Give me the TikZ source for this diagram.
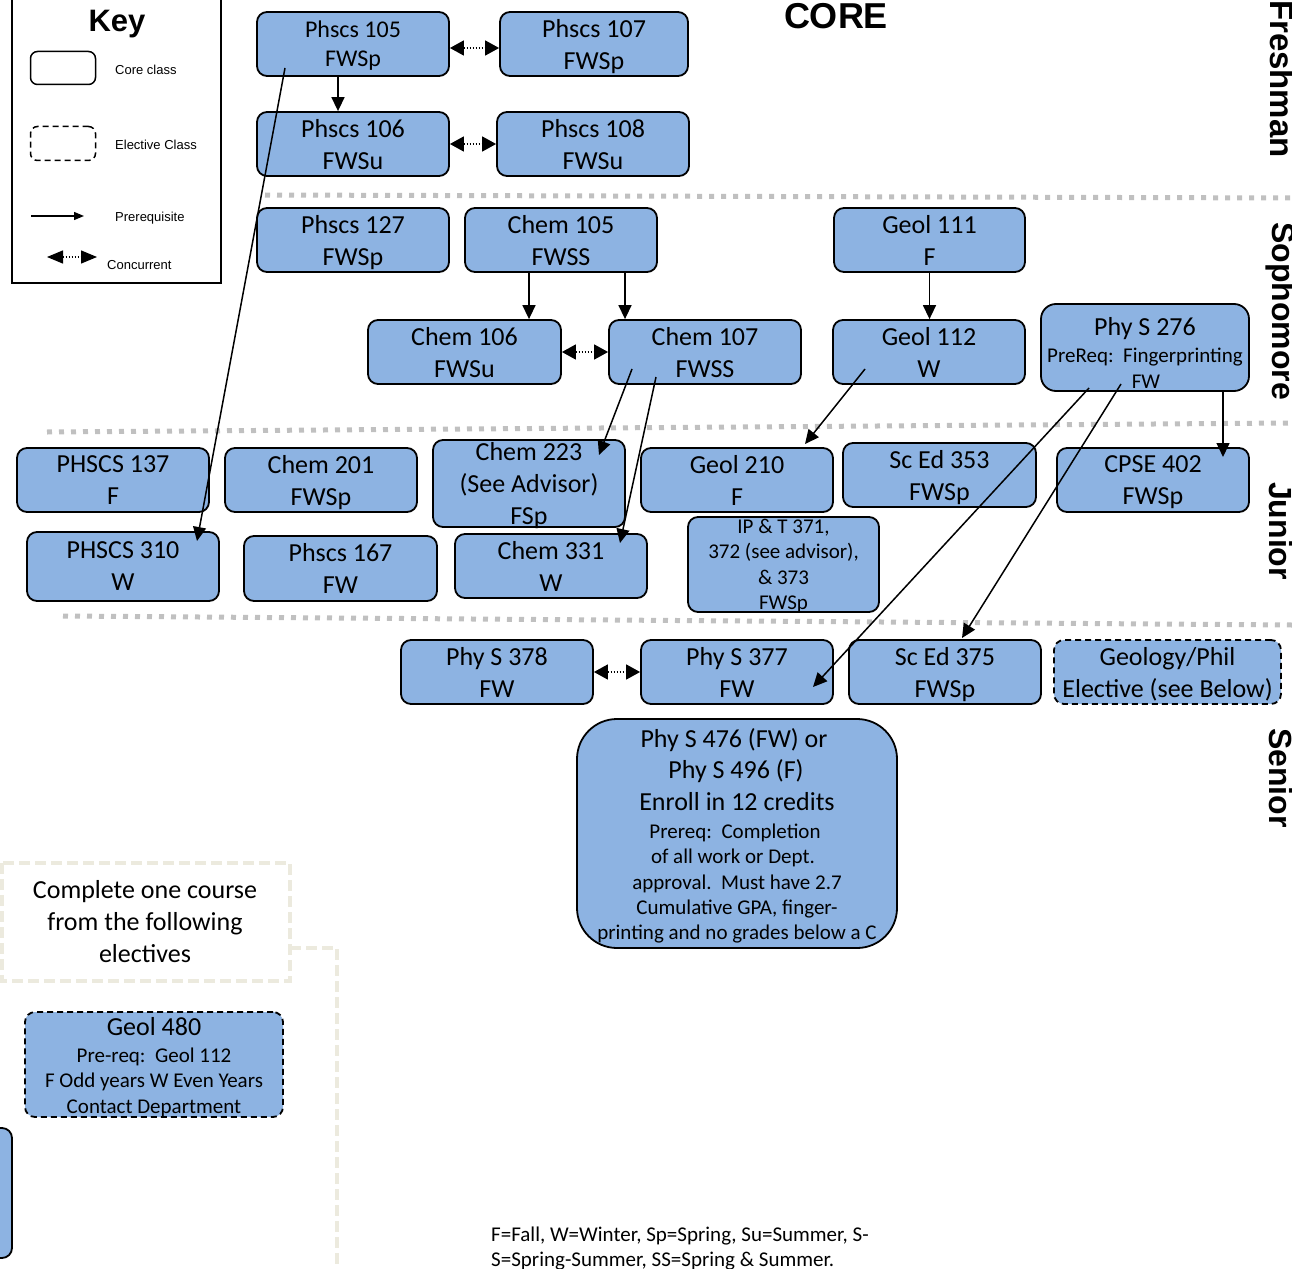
\documentclass[tikz,border=0pt]{standalone}
\usepackage{fontspec}
\setmainfont{Carlito}
\newfontfamily\arialfont{Liberation Sans}
\usetikzlibrary{arrows.meta}
\definecolor{boxblue}{RGB}{141,179,226}
\definecolor{sepgray}{RGB}{192,192,192}
\definecolor{tancol}{RGB}{236,234,222}
\begin{document}
\begin{tikzpicture}[x=1pt,y=-1pt,
  course/.style={draw=black, line width=1.8pt, fill=boxblue, rounded corners=10pt,
    inner sep=0pt, align=center, font=\fontsize{26}{32}\selectfont},
  std/.style={course, minimum width=192pt, minimum height=64pt, text depth=0pt},
  elective/.style={dash pattern=on 6pt off 4pt},
  smalltxt/.style={font=\fontsize{21}{25.5}\selectfont, inner sep=0pt},
  bigtxt/.style={font=\fontsize{26}{32}\selectfont, inner sep=0pt},
  prereq/.style={line width=1.5pt, -{Triangle[length=14pt,width=13pt]}},
  concur/.style={line width=1.5pt, dash pattern=on 1.5pt off 1.5pt,
    {Triangle[length=14pt,width=15pt]}-{Triangle[length=14pt,width=15pt]}},
  separator/.style={sepgray, line width=5pt, dash pattern=on 5pt off 7pt},
  tanline/.style={tancol, line width=4pt, dash pattern=on 11pt off 5pt},
  keytext/.style={font=\arialfont\fontsize{13}{15}\selectfont, anchor=base west, inner sep=0pt},
  yearlabel/.style={font=\arialfont\bfseries\fontsize{32}{36}\selectfont, rotate=-90, inner sep=0pt},
]
\useasboundingbox (0,0) rectangle (1292,1268);

% ---------- Key ----------
\draw[line width=2.5pt] (12,-10) rectangle (221,283);
\node[font=\arialfont\bfseries\fontsize{31}{34}\selectfont, anchor=base, inner sep=0pt] (keyt) at (117,32) {Key};
\node[draw, line width=1.5pt, rounded corners=7pt, minimum width=65pt, minimum height=33pt] (kcore) at (63,68) {};
\node[draw, line width=1.5pt, rounded corners=7pt, minimum width=65pt, minimum height=34pt, dash pattern=on 6pt off 4pt] (kelec) at (63,143.5) {};
\node[keytext] (kcoret) at (115,75) {Core class};
\node[keytext] (kelect) at (115,150) {Elective Class};
\coordinate (kpa) at (31,216);
\coordinate (kpb) at (84,216);
\draw[line width=1.3pt, -{Triangle[length=10pt,width=8pt]}] (kpa) -- (kpb);
\node[keytext] (kpret) at (115,222) {Prerequisite};
\coordinate (kca) at (47,257);
\coordinate (kcb) at (97,257);
\draw[line width=1.3pt, dash pattern=on 1.5pt off 1.5pt, {Triangle[length=16pt,width=13pt]}-{Triangle[length=16pt,width=13pt]}] (kca) -- (kcb);
\node[keytext] (kcont) at (107,269) {Concurrent};

% ---------- titles ----------
\node[font=\arialfont\bfseries\fontsize{36}{40}\selectfont, anchor=base, inner sep=0pt] (core) at (836,29) {CORE};
\node[yearlabel, font=\arialfont\bfseries\fontsize{33}{36}\selectfont] (yfr) at (1282,79) {Freshman};
\node[yearlabel] (yso) at (1281,311) {Sophomore};
\node[yearlabel] (yju) at (1281,531) {Junior};
\node[yearlabel] (yse) at (1281,778) {Senior};

% ---------- separators ----------
\draw[separator] (265,195) -- (1292,198);
\draw[separator] (47,432) -- (1292,423);
\draw[separator] (63,616) -- (1292,625);

% ---------- Freshman ----------
\node[std, font=\fontsize{24}{29}\selectfont, text depth=-3pt] (p105) at (353,44) {Phscs 105\\FWSp};
\node[std, minimum width=188pt] (p107) at (594,44) {Phscs 107\\FWSp};
\node[std] (p106) at (353,144) {Phscs 106\\FWSu};
\node[std] (p108) at (593,144) {Phscs 108\\FWSu};

% ---------- Sophomore ----------
\node[std] (p127) at (353,240) {Phscs 127\\FWSp};
\node[std] (c105) at (561,240) {Chem 105\\FWSS};
\node[std, minimum width=191pt] (g111) at (929.5,240) {Geol 111\\F};
\node[std, minimum width=193pt] (c106) at (464.5,352) {Chem 106\\FWSu};
\node[std] (c107) at (705,352) {Chem 107\\FWSS};
\node[std] (g112) at (929,352) {Geol 112\\W};
\node[course, minimum width=208pt, minimum height=87pt, rounded corners=15pt] (p276) at (1145,347.5) {};
\node[bigtxt, anchor=base] (p276a) at (1145,335) {Phy S 276};
\node[smalltxt, anchor=base] (p276b) at (1145,362) {PreReq:\ \ Fingerprinting};
\node[smalltxt, anchor=base] (p276c) at (1146,388) {FW};

% ---------- Junior ----------
\node[std] (p137) at (113,480) {PHSCS 137\\F};
\node[std] (c201) at (321,480) {Chem 201\\FWSp};
\node[std, minimum height=87pt] (c223) at (529,483.5) {Chem 223\\(See Advisor)\\FSp};
\node[std] (g210) at (737,480) {Geol 210\\F};
\node[std, minimum width=193pt] (s353) at (939.5,475) {Sc Ed 353\\FWSp};
\node[std] (cp402) at (1153,480) {CPSE 402\\FWSp};
\node[std, minimum height=69pt] (p310) at (123,566.5) {PHSCS 310\\W};
\node[std, minimum width=193pt, minimum height=65pt] (p167) at (340.5,568.5) {Phscs 167\\FW};
\node[std] (c331) at (551,566) {Chem 331\\W};
\node[std, minimum width=191pt, minimum height=95pt, font=\fontsize{21}{25.5}\selectfont] (ipt) at (783.5,564.5) {IP \& T 371,\\372 (see advisor),\\\& 373\\FWSp};

% ---------- Senior ----------
\node[std] (p378) at (497,672) {Phy S 378\\FW};
\node[std] (p377) at (737,672) {Phy S 377\\FW};
\node[std] (s375) at (945,672) {Sc Ed 375\\FWSp};
\node[std, elective, minimum width=227pt] (geoph) at (1167.5,672) {Geology/Phil\\Elective (see Below)};
\node[course, minimum width=320pt, minimum height=229pt, rounded corners=40pt] (p476) at (737,833.5) {};
\node[bigtxt, anchor=base] (p476a) at (734,747) {Phy S 476 (FW) or};
\node[bigtxt, anchor=base] (p476b) at (736,778) {Phy S 496 (F)};
\node[bigtxt, anchor=base] (p476c) at (737,810) {Enroll in 12 credits};
\node[smalltxt, anchor=base] (p476d) at (735,838) {Prereq:\ \ Completion};
\node[smalltxt, anchor=base] (p476e) at (733,863) {of all work or Dept.};
\node[smalltxt, anchor=base] (p476f) at (737,889) {approval.\ \ Must have 2.7};
\node[smalltxt, anchor=base] (p476g) at (737,914) {Cumulative GPA, finger-};
\node[smalltxt, anchor=base] (p476h) at (737,939) {printing and no grades below a C};

% ---------- electives ----------
\draw[tanline] (2,863) rectangle (290,981);
\draw[tanline] (290,948) -- (337,948) -- (337,1275);
\node[bigtxt, align=center] (elecnote) at (145,922) {Complete one course\\from the following\\electives};
\node[course, elective, minimum width=258pt, minimum height=105pt] (g480) at (154,1064.5) {};
\node[bigtxt, anchor=base] (g480a) at (154,1035) {Geol 480};
\node[smalltxt, anchor=base] (g480b) at (154,1062) {Pre-req:\ \ Geol 112};
\node[smalltxt, anchor=base] (g480c) at (154,1087) {F Odd years W Even Years};
\node[smalltxt, anchor=base] (g480d) at (154,1113) {Contact Department};
\draw[line width=1.8pt, fill=boxblue, rounded corners=10pt] (-40,1128) rectangle (12,1258);

% ---------- legend of terms ----------
\node[smalltxt, anchor=base west] (terms1) at (491,1241) {F=Fall, W=Winter, Sp=Spring, Su=Summer, S-};
\node[smalltxt, anchor=base west] (terms2) at (491,1266) {S=Spring-Summer, SS=Spring \& Summer.};

% ---------- connectors ----------
\draw[prereq] ([xshift=-15pt]p105.south) -- ([xshift=-15pt]p105.south |- p106.north);
\draw[concur] ([yshift=-4pt]p105.east) -- ([yshift=-4pt]p107.west);
\draw[concur] (p106.east) -- (p108.west);
\draw[prereq] ([xshift=-32pt]c105.south) -- ([xshift=-32pt]c105.south |- c106.north);
\draw[prereq] ([xshift=64pt]c105.south) -- ([xshift=64pt]c105.south |- c107.north);
\draw[concur] (c106.east) -- (c107.west);
\draw[prereq] (g111.south) -- (g111.south |- g112.north);
\draw[concur] (p378.east) -- (p377.west);

\coordinate (d1s) at (285,68);   \coordinate (d1e) at (197,541);
\coordinate (d2s) at (632,369);  \coordinate (d2e) at (599,455);
\coordinate (d3s) at (656,377);  \coordinate (d3e) at (620,543);
\coordinate (d4s) at (865,369);  \coordinate (d4e) at (805,444);
\coordinate (d5s) at (1089,388); \coordinate (d5e) at (813,687);
\coordinate (d6s) at (1121,384); \coordinate (d6e) at (962,638);
\coordinate (d7s) at (1223,391); \coordinate (d7e) at (1223,457);
\draw[prereq] (d1s) -- (d1e);
\draw[prereq] (d2s) -- (d2e);
\draw[prereq] (d3s) -- (d3e);
\draw[prereq] (d4s) -- (d4e);
\draw[prereq] (d5s) -- (d5e);
\draw[prereq] (d6s) -- (d6e);
\draw[prereq] (d7s) -- (d7e);
\end{tikzpicture}
\end{document}
